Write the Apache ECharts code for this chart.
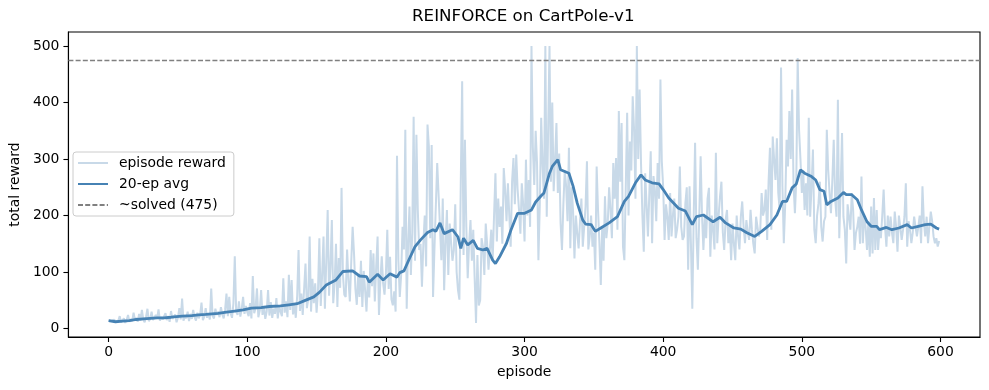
<!DOCTYPE html>
<html>
<head>
<meta charset="utf-8">
<script src="https://cdn.jsdelivr.net/npm/echarts@6/dist/echarts.min.js"></script>
<style>html,body{margin:0;padding:0;background:#fff;}#chart{width:989px;height:390px;}</style>
</head>
<body>
<div id="chart"></div>
<script>
// ---- data ----
const episodeReward = [
  14, 11, 13, 10, 16, 12, 9, 14, 22, 11, 13, 18, 10, 15, 24, 12, 17, 13, 28, 15,
  19, 12, 26, 14, 33, 16, 11, 21, 35, 13, 17, 30, 15, 12, 24, 18, 34, 14, 20, 16,
  13, 27, 15, 22, 12, 31, 17, 14, 25, 11, 19, 36, 16, 53, 14, 22, 18, 30, 13, 26,
  17, 33, 20, 14, 28, 18, 24, 46, 15, 21, 36, 19, 27, 16, 71, 22, 18, 35, 24, 30,
  20, 38, 25, 18, 33, 62, 22, 56, 27, 19, 44, 128, 30, 24, 48, 21, 35, 56, 26, 40,
  29, 22, 45, 18, 93, 27, 36, 71, 20, 32, 68, 24, 40, 17, 30, 68, 23, 47, 19, 35,
  26, 54, 18, 40, 30, 22, 89, 28, 48, 20, 95, 33, 86, 25, 42, 19, 58, 139, 31, 62,
  24, 70, 115, 36, 52, 163, 30, 88, 45, 80, 28, 66, 160, 40, 95, 163, 35, 120, 210, 58,
  110, 192, 45, 80, 150, 38, 125, 72, 249, 95, 60, 56, 140, 85, 48, 118, 180, 133, 70, 42,
  95, 56, 120, 38, 102, 68, 30, 90, 55, 139, 75, 133, 48, 110, 163, 24, 85, 128, 80, 60,
  98, 175, 70, 127, 52, 41, 66, 30, 306, 120, 56, 95, 180, 140, 352, 35, 150, 216, 95, 170,
  375, 120, 343, 210, 139, 150, 74, 150, 200, 110, 361, 322, 160, 325, 56, 140, 140, 293, 290, 180,
  121, 230, 68, 150, 210, 95, 186, 189, 120, 139, 220, 100, 68, 51, 260, 438, 130, 334, 180, 89,
  150, 192, 120, 175, 90, 10, 130, 41, 50, 160, 145, 95, 186, 150, 104, 140, 175, 120, 200, 275,
  154, 230, 180, 216, 150, 284, 246, 190, 257, 200, 145, 260, 302, 220, 308, 246, 210, 168, 257, 220,
  154, 299, 200, 263, 180, 500, 320, 254, 350, 293, 121, 220, 373, 287, 230, 500, 198, 350, 500, 260,
  400, 243, 300, 364, 240, 310, 186, 139, 220, 280, 252, 190, 320, 142, 250, 207, 124, 200, 169, 142,
  190, 230, 145, 180, 216, 296, 140, 163, 200, 145, 170, 104, 287, 210, 151, 77, 180, 120, 234, 160,
  186, 250, 210, 160, 293, 230, 302, 175, 385, 260, 364, 145, 121, 250, 382, 200, 331, 280, 411, 352,
  230, 500, 300, 423, 293, 200, 136, 275, 220, 163, 240, 314, 151, 270, 246, 190, 293, 230, 441, 296,
  250, 157, 220, 198, 157, 240, 163, 200, 230, 160, 175, 198, 287, 180, 157, 163, 222, 250, 104, 252,
  150, 35, 198, 329, 160, 104, 198, 305, 200, 139, 198, 160, 230, 249, 127, 200, 175, 140, 311, 151,
  200, 234, 260, 170, 139, 192, 210, 151, 180, 121, 186, 150, 121, 200, 163, 140, 198, 225, 180, 151,
  192, 170, 157, 210, 175, 150, 133, 198, 180, 163, 175, 240, 200, 210, 246, 157, 260, 320, 175, 340,
  300, 263, 337, 240, 210, 462, 252, 151, 220, 334, 287, 385, 300, 423, 257, 204, 263, 479, 352, 300,
  240, 280, 210, 257, 200, 373, 198, 250, 317, 175, 151, 200, 222, 260, 180, 154, 190, 198, 352, 281,
  240, 204, 263, 334, 230, 198, 405, 160, 250, 346, 198, 175, 115, 220, 198, 175, 240, 210, 139, 169,
  180, 198, 150, 269, 151, 200, 180, 139, 190, 127, 216, 133, 231, 139, 210, 139, 175, 160, 200, 246,
  180, 145, 200, 163, 198, 170, 151, 207, 180, 136, 200, 180, 157, 175, 198, 257, 145, 190, 175, 151,
  170, 198, 180, 163, 180, 200, 151, 252, 190, 163, 198, 151, 180, 207, 190, 163, 151, 160, 145, 155
];

const avgEpisode = [0, 5, 10, 15, 20, 25, 30, 35, 40, 45, 53, 60, 65, 70, 79, 85, 91, 97, 103, 110,
  116, 124, 130, 136, 141, 148, 152, 157, 164, 169, 176, 181, 186, 188, 194, 198, 203, 208, 210, 213,
  217, 221, 225, 230, 234, 236, 239, 242, 248, 252, 254, 256, 259, 263, 266, 270, 273, 277, 279, 282,
  283, 287, 290, 295, 300, 305, 308, 312, 314, 318, 320, 324, 326, 332, 335, 338, 342, 344, 348, 351,
  355, 361, 367, 372, 375, 380, 384, 387, 392, 397, 400, 404, 411, 416, 421, 424, 429, 436, 441, 445,
  451, 456, 460, 466, 471, 477, 482, 486, 489, 493, 496, 499, 502, 507, 510, 513, 516, 518, 521, 526,
  530, 532, 536, 540, 543, 547, 550, 554, 556, 561, 565, 570, 576, 579, 584, 589, 593, 597, 599];
const avgValue = [14, 12, 13, 14, 16, 17, 18, 19, 19, 20, 22, 23, 24, 25, 27, 29, 31, 33, 36, 37,
  39, 40, 42, 44, 49, 56, 64, 77, 86, 101, 102, 93, 92, 82, 96, 86, 97, 91, 99, 102,
  124, 145, 157, 170, 175, 172, 187, 168, 175, 162, 142, 160, 148, 156, 142, 139, 142, 121, 115, 127,
  126, 151, 173, 204, 204, 210, 224, 235, 240, 275, 287, 299, 281, 275, 252, 222, 192, 185, 184, 172,
  178, 187, 198, 225, 234, 258, 272, 263, 258, 256, 246, 231, 213, 208, 184, 198, 201, 189, 197, 187,
  178, 176, 170, 163, 172, 184, 201, 225, 225, 249, 256, 281, 275, 269, 263, 246, 243, 219, 225, 231,
  241, 237, 237, 228, 210, 189, 181, 181, 175, 179, 175, 178, 184, 178, 181, 184, 185, 178, 176];

const solvedLevel = 475;
const xTicks = [0, 100, 200, 300, 400, 500, 600];
const yTicks = [0, 100, 200, 300, 400, 500];
const seriesNames = ['episode reward', '20-ep avg', '~solved (475)'];

// ---- chart ----
const FONT = 'DejaVu Sans';
const chart = echarts.init(document.getElementById('chart'), null, {renderer: 'canvas'});
const option = {
  animation: false,
  backgroundColor: '#ffffff',
  textStyle: {fontFamily: FONT, color: '#000'},
  title: {
    text: 'REINFORCE on CartPole-v1',
    left: 412, top: 8, padding: 0,
    textStyle: {fontFamily: FONT, fontSize: 16.7, fontWeight: 'normal', color: '#000'}
  },
  grid: {left: 67, right: 9, top: 32, bottom: 53, show: true, borderColor: '#000', borderWidth: 1.1, backgroundColor: 'transparent'},
  legend: {
    orient: 'vertical', left: 73, top: 152,
    data: seriesNames,
    itemWidth: 30, itemHeight: 14, itemGap: 7,
    padding: [4, 8, 4, 4],
    borderColor: '#cccccc', borderWidth: 1, borderRadius: 3,
    backgroundColor: 'rgba(255,255,255,0.8)',
    itemStyle: {opacity: 0, borderWidth: 0},
    textStyle: {fontFamily: FONT, fontSize: 13.9, color: '#000', padding: [0, 0, 0, 6]}
  },
  xAxis: {
    type: 'value', min: -29, max: 628.5,
    name: 'episode', nameLocation: 'middle', nameGap: 28,
    nameTextStyle: {fontFamily: FONT, fontSize: 13.9, color: '#000'},
    axisLine: {show: true, onZero: false, lineStyle: {color: '#000', width: 1.1}},
    axisTick: {show: true, length: 5, lineStyle: {color: '#000', width: 1.1}, customValues: xTicks},
    axisLabel: {fontFamily: FONT, fontSize: 13.9, color: '#000', margin: 8, customValues: xTicks},
    splitLine: {show: false}
  },
  yAxis: {
    type: 'value', min: -15, max: 525,
    name: 'total reward', nameLocation: 'middle', nameGap: 45, nameRotate: 90,
    nameTextStyle: {fontFamily: FONT, fontSize: 13.9, color: '#000'},
    axisLine: {show: true, onZero: false, lineStyle: {color: '#000', width: 1.1}},
    axisTick: {show: true, length: 5, lineStyle: {color: '#000', width: 1.1}, customValues: yTicks},
    axisLabel: {fontFamily: FONT, fontSize: 13.9, color: '#000', margin: 9, customValues: yTicks},
    splitLine: {show: false}
  },
  series: [
    {
      name: seriesNames[0], type: 'line', symbol: 'none', z: 2,
      data: episodeReward.map((v, i) => [i, v]),
      lineStyle: {color: '#c8d9e8', width: 2},
      itemStyle: {color: '#c8d9e8'}
    },
    {
      name: seriesNames[1], type: 'line', symbol: 'none', z: 3,
      data: avgEpisode.map((e, i) => [e, avgValue[i]]),
      lineStyle: {color: '#4682b4', width: 2.8},
      itemStyle: {color: '#4682b4'}
    },
    {
      name: seriesNames[2], type: 'line', symbol: 'none', z: 4,
      data: [],
      lineStyle: {color: '#808080', width: 1.4, type: [5, 2.2]},
      itemStyle: {color: '#808080'},
      markLine: {
        silent: true, symbol: ['none', 'none'], label: {show: false},
        lineStyle: {color: '#808080', width: 1.4, type: [5, 2.2]},
        data: [{yAxis: solvedLevel}]
      }
    }
  ]
};
chart.setOption(option);
</script>
</body>
</html>
